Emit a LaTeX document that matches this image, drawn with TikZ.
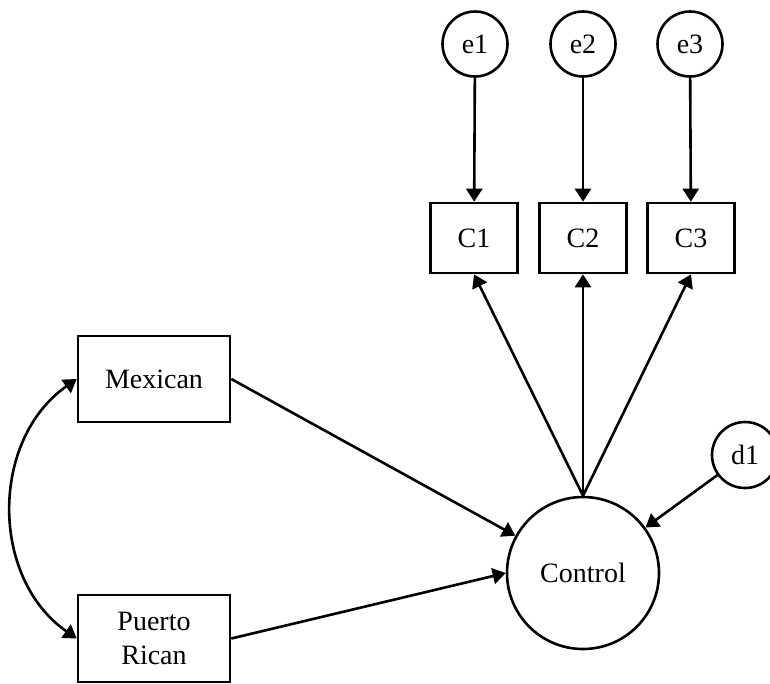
\documentclass[tikz,border=0pt]{standalone}
\usepackage{fontspec}
\setmainfont{Liberation Serif}
\usetikzlibrary{arrows.meta}
\begin{document}
\begin{tikzpicture}[x=1pt,y=-1pt,
  every node/.style={font=\fontsize{28}{34}\selectfont, line width=2.6pt, inner sep=0pt},
  latent/.style={draw, circle},
  obs/.style={draw, rectangle, align=center},
  conn/.style={line width=2.6pt, -{Triangle[length=13pt,width=16pt]}},
  biconn/.style={line width=2.6pt, {Triangle[length=13pt,width=16pt]}-{Triangle[length=13pt,width=16pt]}}]
\useasboundingbox (0,0) rectangle (770,683);
\node[latent, minimum size=65pt] (e1) at (475,44) {e1};
\node[latent, minimum size=65pt] (e2) at (583,44) {e2};
\node[latent, minimum size=65pt] (e3) at (690,44) {e3};
\node[obs, minimum width=87pt, minimum height=70pt] (C1) at (474,238) {C1};
\node[obs, minimum width=87pt, minimum height=70pt] (C2) at (583,238) {C2};
\node[obs, minimum width=87pt, minimum height=70pt] (C3) at (691,238) {C3};
\node[obs, minimum width=152pt, minimum height=86pt] (Mex) at (154,379) {Mexican};
\node[obs, minimum width=152pt, minimum height=87pt] (PR) at (154,638.5) {Puerto\\Rican};
\node[latent, minimum size=152pt] (Ctrl) at (583,573) {Control};
\node[latent, minimum size=66pt] (d1) at (745,455) {d1};
\draw[conn] (e1) -- (C1);
\draw[conn] (e2) -- (C2);
\draw[conn] (e3) -- (C3);
\draw[conn] (Ctrl.north) -- (C1.south);
\draw[conn] (Ctrl.north) -- (C2.south);
\draw[conn] (Ctrl.north) -- (C3.south);
\draw[conn] (d1) -- (Ctrl);
\draw[conn] (Mex.east) -- (Ctrl);
\draw[conn] (PR.east) -- (Ctrl.west);
\draw[biconn] (Mex.west) .. controls (-10,440) and (-10,578) .. (PR.west);
\end{tikzpicture}
\end{document}
